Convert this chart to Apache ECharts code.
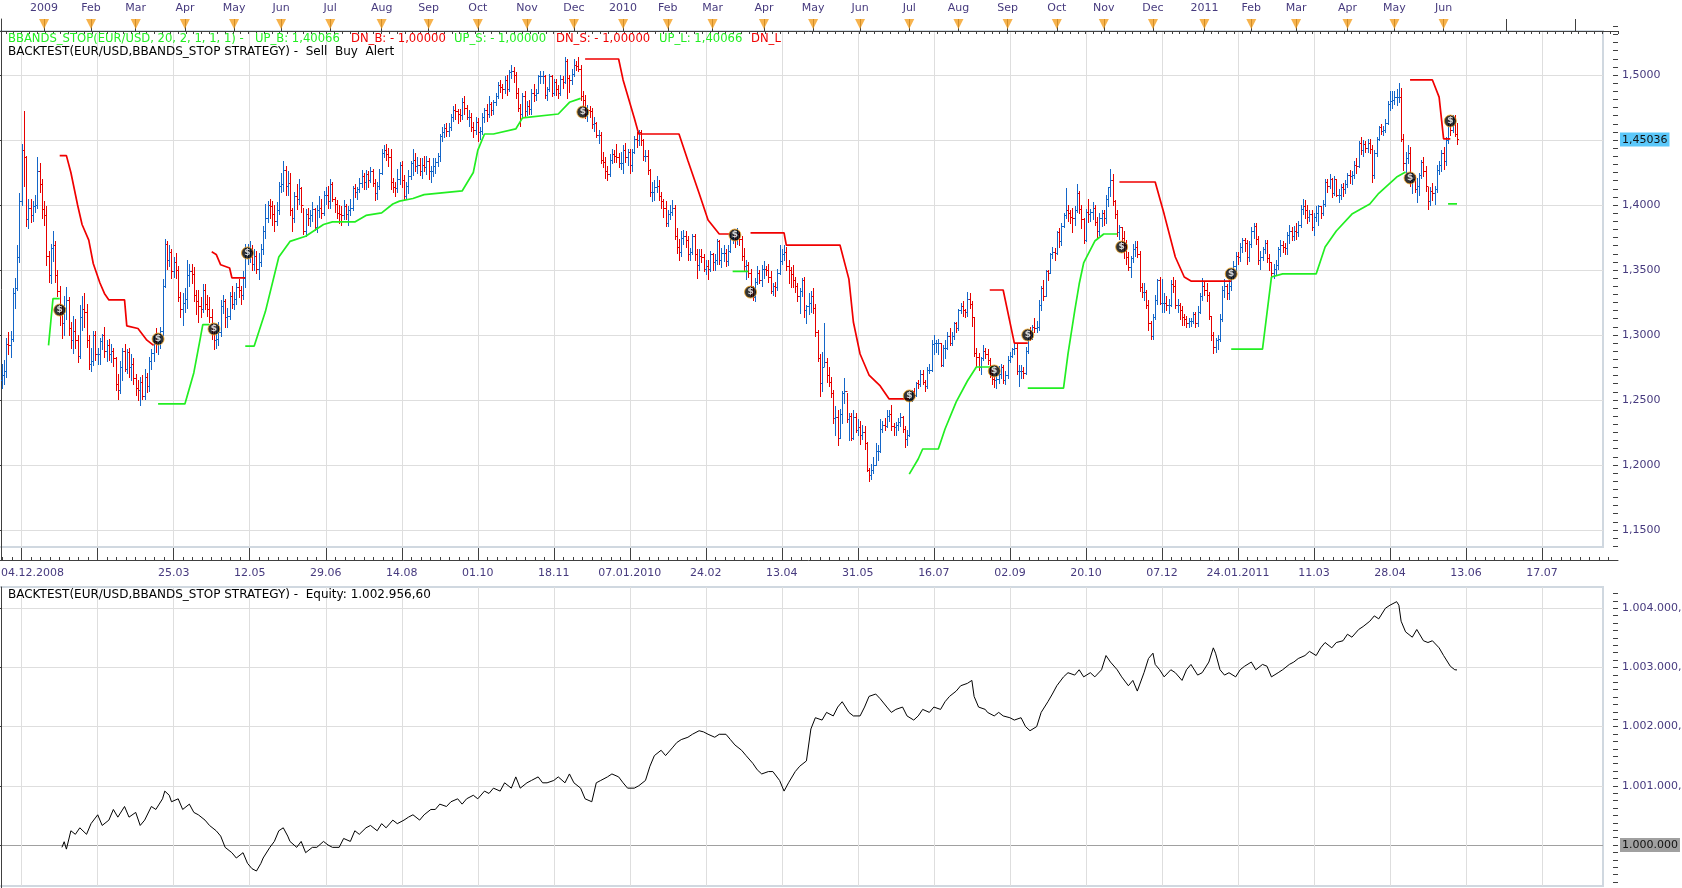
<!DOCTYPE html>
<html>
<head>
<meta charset="utf-8">
<title>EUR/USD BBANDS_STOP backtest</title>
<script src="https://cdn.jsdelivr.net/npm/echarts@6.0.0/dist/echarts.min.js"></script>
<style>
html, body { margin: 0; padding: 0; background: #fff; }
#chart { width: 1682px; height: 888px; }
</style>
</head>
<body>
<div id="chart"></div>
<script>
// daily EUR/USD bars, one row per month (Dec 2008 .. Jun 2011), bar index 0 = 04.12.2008
const firstOpen = 1.265
const closeRows = [
  [1.269,1.272,1.293,1.292,1.297,1.332,1.336,1.360,1.403,1.442,1.437,1.389,1.398,1.392,1.399,1.400,1.426,1.416,1.397],
  [1.392,1.361,1.346,1.367,1.369,1.346,1.334,1.318,1.309,1.321,1.327,1.305,1.296,1.303,1.296,1.284,1.314,1.320,1.318,1.296,1.278],
  [1.280,1.300,1.285,1.285,1.295,1.300,1.288,1.292,1.285,1.288,1.282,1.262,1.258,1.275,1.288,1.274,1.287,1.275,1.278,1.267],
  [1.259,1.258,1.264,1.253,1.268,1.261,1.280,1.286,1.295,1.293,1.295,1.303,1.338,1.370,1.358,1.364,1.349,1.356,1.350,1.329,1.320,1.325],
  [1.328,1.346,1.349,1.347,1.331,1.326,1.322,1.320,1.335,1.324,1.320,1.314,1.303,1.296,1.297,1.302,1.322,1.326,1.314,1.315,1.330,1.324],
  [1.328,1.337,1.335,1.331,1.344,1.363,1.363,1.365,1.355,1.361,1.351,1.356,1.366,1.380,1.390,1.400,1.399,1.393,1.388,1.396,1.415],
  [1.416,1.427,1.415,1.417,1.396,1.390,1.407,1.405,1.413,1.400,1.380,1.393,1.390,1.392,1.397,1.383,1.396,1.398,1.394,1.408,1.408,1.403],
  [1.416,1.405,1.401,1.394,1.393,1.392,1.399,1.393,1.396,1.398,1.413,1.410,1.412,1.417,1.422,1.418,1.424,1.419,1.426,1.417,1.409,1.415,1.425],
  [1.440,1.442,1.439,1.437,1.418,1.414,1.413,1.420,1.431,1.419,1.407,1.415,1.422,1.432,1.435,1.430,1.431,1.426,1.431,1.429,1.434],
  [1.426,1.426,1.430,1.433,1.438,1.453,1.456,1.459,1.457,1.460,1.468,1.473,1.472,1.470,1.469,1.479,1.475,1.468,1.468,1.460,1.458,1.464],
  [1.456,1.457,1.468,1.473,1.470,1.478,1.473,1.479,1.484,1.492,1.491,1.489,1.496,1.489,1.502,1.503,1.500,1.486,1.475,1.470,1.484,1.472],
  [1.476,1.474,1.486,1.485,1.486,1.499,1.499,1.499,1.485,1.489,1.499,1.486,1.495,1.489,1.486,1.497,1.495,1.511,1.498,1.496,1.501],
  [1.508,1.507,1.505,1.484,1.481,1.470,1.473,1.472,1.462,1.463,1.454,1.454,1.435,1.433,1.426,1.424,1.435,1.439,1.438,1.437,1.432,1.432],
  [1.442,1.437,1.441,1.431,1.441,1.451,1.450,1.456,1.450,1.438,1.438,1.427,1.410,1.410,1.414,1.415,1.407,1.403,1.398,1.386],
  [1.393,1.395,1.398,1.376,1.368,1.364,1.375,1.376,1.373,1.362,1.364,1.376,1.362,1.354,1.361,1.360,1.351,1.353,1.351,1.362],
  [1.356,1.358,1.372,1.358,1.363,1.363,1.357,1.365,1.375,1.377,1.374,1.378,1.374,1.361,1.353,1.354,1.348,1.332,1.329,1.341,1.348,1.342,1.351],
  [1.351,1.350,1.345,1.334,1.338,1.337,1.348,1.357,1.362,1.364,1.353,1.350,1.347,1.342,1.338,1.330,1.334,1.342,1.319,1.322,1.325,1.330],
  [1.321,1.302,1.282,1.263,1.275,1.279,1.269,1.264,1.255,1.236,1.237,1.221,1.239,1.255,1.257,1.235,1.238,1.221,1.237,1.227,1.229],
  [1.223,1.225,1.217,1.196,1.192,1.196,1.200,1.211,1.211,1.228,1.231,1.230,1.238,1.239,1.230,1.229,1.231,1.233,1.237,1.228,1.220,1.223],
  [1.251,1.257,1.254,1.263,1.262,1.270,1.264,1.261,1.273,1.273,1.293,1.294,1.294,1.294,1.277,1.290,1.290,1.299,1.294,1.299,1.309,1.305],
  [1.319,1.322,1.319,1.318,1.328,1.324,1.314,1.286,1.283,1.275,1.282,1.288,1.285,1.281,1.271,1.266,1.265,1.266,1.270,1.275,1.265,1.269],
  [1.281,1.284,1.289,1.290,1.272,1.272,1.272,1.271,1.288,1.301,1.300,1.306,1.305,1.306,1.323,1.336,1.330,1.349,1.348,1.362,1.364,1.363],
  [1.379,1.372,1.384,1.392,1.396,1.394,1.391,1.390,1.396,1.409,1.397,1.389,1.373,1.395,1.393,1.395,1.398,1.387,1.380,1.390,1.394],
  [1.390,1.405,1.414,1.419,1.403,1.393,1.379,1.383,1.375,1.369,1.360,1.352,1.359,1.366,1.368,1.362,1.337,1.333,1.333,1.323,1.309,1.299],
  [1.314,1.327,1.342,1.325,1.325,1.325,1.323,1.323,1.339,1.338,1.323,1.323,1.319,1.314,1.312,1.309,1.311,1.311,1.316,1.309,1.318,1.330,1.338],
  [1.335,1.331,1.315,1.300,1.291,1.296,1.297,1.312,1.335,1.338,1.332,1.338,1.347,1.353,1.361,1.360,1.368,1.373,1.371,1.360,1.370],
  [1.380,1.384,1.374,1.358,1.360,1.366,1.371,1.359,1.356,1.348,1.351,1.354,1.366,1.369,1.368,1.367,1.377,1.380,1.376,1.380],
  [1.379,1.385,1.397,1.399,1.396,1.391,1.393,1.383,1.391,1.394,1.399,1.394,1.401,1.418,1.415,1.420,1.409,1.420,1.408,1.408,1.414,1.412,1.416],
  [1.423,1.422,1.423,1.431,1.430,1.448,1.442,1.447,1.444,1.448,1.443,1.423,1.440,1.451,1.460,1.457,1.458,1.463,1.478,1.480,1.481],
  [1.483,1.483,1.483,1.451,1.432,1.436,1.440,1.419,1.420,1.412,1.415,1.423,1.433,1.426,1.415,1.403,1.411,1.409,1.412,1.427,1.431,1.440],
  [1.434,1.450,1.464,1.458,1.466,1.455,1.4504]
]
const highRows = [
  [1.278,1.281,1.298,1.302,1.303,1.336,1.344,1.369,1.409,1.447,1.472,1.438,1.405,1.405,1.403,1.408,1.437,1.432,1.420],
  [1.403,1.399,1.365,1.370,1.380,1.372,1.350,1.338,1.322,1.330,1.337,1.329,1.310,1.315,1.312,1.300,1.323,1.330,1.332,1.324,1.300],
  [1.290,1.303,1.303,1.290,1.298,1.301,1.306,1.296,1.297,1.293,1.290,1.283,1.270,1.280,1.290,1.293,1.289,1.290,1.285,1.282],
  [1.270,1.265,1.268,1.269,1.274,1.271,1.283,1.289,1.299,1.305,1.300,1.306,1.343,1.374,1.372,1.369,1.366,1.360,1.363,1.353,1.333,1.332],
  [1.336,1.358,1.355,1.355,1.352,1.335,1.335,1.329,1.339,1.339,1.331,1.329,1.320,1.307,1.303,1.310,1.327,1.331,1.328,1.321,1.333,1.338],
  [1.333,1.340,1.343,1.338,1.349,1.370,1.370,1.372,1.369,1.366,1.365,1.363,1.370,1.384,1.401,1.403,1.405,1.403,1.400,1.402,1.418],
  [1.425,1.434,1.430,1.426,1.425,1.398,1.410,1.416,1.420,1.414,1.398,1.397,1.398,1.396,1.402,1.398,1.400,1.407,1.405,1.411,1.414,1.415],
  [1.420,1.418,1.406,1.404,1.400,1.399,1.404,1.401,1.399,1.405,1.415,1.416,1.414,1.421,1.427,1.425,1.427,1.426,1.429,1.428,1.420,1.418,1.428],
  [1.443,1.446,1.447,1.444,1.443,1.421,1.418,1.428,1.433,1.434,1.423,1.418,1.427,1.434,1.443,1.440,1.437,1.436,1.436,1.438,1.438],
  [1.436,1.430,1.436,1.436,1.440,1.455,1.460,1.462,1.463,1.463,1.470,1.476,1.478,1.474,1.474,1.482,1.484,1.477,1.473,1.471,1.464,1.468],
  [1.467,1.460,1.471,1.475,1.478,1.484,1.479,1.481,1.486,1.495,1.496,1.493,1.499,1.500,1.504,1.508,1.506,1.502,1.490,1.478,1.486,1.488],
  [1.480,1.481,1.489,1.493,1.489,1.500,1.503,1.503,1.500,1.491,1.501,1.500,1.497,1.497,1.492,1.500,1.499,1.514,1.512,1.500,1.505],
  [1.512,1.511,1.514,1.508,1.488,1.485,1.477,1.476,1.475,1.468,1.464,1.458,1.456,1.441,1.437,1.430,1.439,1.443,1.442,1.447,1.440,1.441],
  [1.446,1.448,1.443,1.443,1.443,1.453,1.456,1.458,1.458,1.451,1.442,1.442,1.428,1.418,1.419,1.422,1.419,1.410,1.405,1.403],
  [1.396,1.400,1.404,1.400,1.382,1.374,1.380,1.381,1.380,1.376,1.367,1.378,1.378,1.366,1.366,1.366,1.362,1.358,1.358,1.365],
  [1.363,1.362,1.374,1.373,1.367,1.369,1.366,1.369,1.378,1.380,1.377,1.382,1.380,1.376,1.367,1.358,1.356,1.351,1.338,1.344,1.353,1.350,1.354],
  [1.357,1.353,1.355,1.349,1.340,1.341,1.351,1.369,1.366,1.369,1.368,1.358,1.352,1.354,1.345,1.340,1.336,1.344,1.345,1.323,1.332,1.334],
  [1.336,1.324,1.304,1.285,1.287,1.309,1.282,1.275,1.268,1.258,1.245,1.242,1.243,1.257,1.267,1.255,1.240,1.240,1.242,1.240,1.235],
  [1.234,1.231,1.230,1.218,1.198,1.201,1.206,1.217,1.215,1.235,1.234,1.236,1.242,1.242,1.246,1.232,1.233,1.236,1.240,1.238,1.230,1.227],
  [1.253,1.258,1.259,1.264,1.265,1.273,1.273,1.265,1.275,1.278,1.296,1.300,1.296,1.297,1.294,1.292,1.296,1.302,1.305,1.302,1.310,1.310],
  [1.320,1.325,1.326,1.320,1.333,1.332,1.326,1.314,1.290,1.286,1.283,1.292,1.290,1.289,1.282,1.273,1.268,1.271,1.276,1.278,1.277,1.272],
  [1.284,1.287,1.290,1.294,1.293,1.277,1.277,1.275,1.291,1.304,1.306,1.308,1.313,1.311,1.327,1.338,1.342,1.350,1.350,1.363,1.368,1.367],
  [1.380,1.382,1.386,1.394,1.413,1.400,1.396,1.398,1.399,1.416,1.411,1.400,1.390,1.397,1.405,1.397,1.402,1.400,1.391,1.394,1.396],
  [1.396,1.408,1.414,1.428,1.424,1.404,1.396,1.385,1.383,1.380,1.373,1.364,1.361,1.370,1.372,1.372,1.365,1.340,1.340,1.335,1.327,1.311],
  [1.316,1.331,1.343,1.345,1.343,1.332,1.330,1.328,1.342,1.345,1.342,1.328,1.325,1.322,1.316,1.315,1.313,1.313,1.318,1.318,1.322,1.332,1.344],
  [1.341,1.340,1.333,1.315,1.302,1.298,1.300,1.316,1.338,1.343,1.339,1.342,1.350,1.357,1.364,1.364,1.371,1.375,1.375,1.373,1.372],
  [1.383,1.386,1.386,1.376,1.365,1.368,1.373,1.373,1.362,1.356,1.355,1.358,1.368,1.373,1.372,1.371,1.379,1.385,1.383,1.384],
  [1.386,1.388,1.400,1.405,1.404,1.400,1.396,1.396,1.394,1.399,1.400,1.399,1.404,1.420,1.420,1.424,1.421,1.422,1.420,1.412,1.416,1.417,1.419],
  [1.425,1.427,1.426,1.434,1.436,1.449,1.452,1.450,1.449,1.451,1.451,1.446,1.442,1.452,1.461,1.462,1.461,1.466,1.480,1.488,1.488],
  [1.488,1.489,1.494,1.490,1.455,1.441,1.446,1.445,1.425,1.423,1.421,1.425,1.435,1.437,1.430,1.414,1.414,1.417,1.415,1.431,1.434,1.442],
  [1.445,1.452,1.466,1.469,1.469,1.469,1.463]
]
const lowRows = [
  [1.259,1.262,1.268,1.285,1.283,1.295,1.321,1.335,1.356,1.400,1.415,1.384,1.382,1.387,1.388,1.395,1.398,1.410,1.390],
  [1.385,1.354,1.341,1.340,1.357,1.341,1.330,1.308,1.298,1.300,1.312,1.300,1.290,1.286,1.290,1.279,1.282,1.304,1.306,1.291,1.274],
  [1.272,1.277,1.281,1.278,1.278,1.289,1.283,1.280,1.281,1.279,1.276,1.258,1.251,1.255,1.265,1.272,1.271,1.268,1.265,1.262],
  [1.254,1.250,1.246,1.251,1.251,1.256,1.257,1.274,1.280,1.287,1.285,1.290,1.300,1.337,1.351,1.353,1.344,1.345,1.344,1.326,1.314,1.308],
  [1.318,1.321,1.338,1.340,1.326,1.316,1.310,1.314,1.318,1.320,1.315,1.310,1.297,1.289,1.290,1.292,1.299,1.317,1.306,1.306,1.312,1.321],
  [1.320,1.324,1.329,1.324,1.328,1.337,1.355,1.356,1.350,1.350,1.348,1.343,1.353,1.362,1.375,1.387,1.390,1.385,1.380,1.385,1.393],
  [1.410,1.411,1.408,1.408,1.392,1.380,1.387,1.397,1.401,1.395,1.378,1.376,1.385,1.384,1.388,1.381,1.379,1.391,1.390,1.392,1.401,1.398],
  [1.398,1.403,1.395,1.390,1.386,1.385,1.389,1.389,1.385,1.392,1.396,1.406,1.405,1.410,1.414,1.412,1.412,1.414,1.418,1.415,1.404,1.405,1.412],
  [1.424,1.437,1.435,1.430,1.412,1.410,1.407,1.410,1.416,1.414,1.405,1.405,1.409,1.420,1.423,1.426,1.425,1.423,1.421,1.426,1.424],
  [1.420,1.418,1.422,1.425,1.430,1.434,1.449,1.452,1.453,1.453,1.458,1.465,1.466,1.463,1.465,1.466,1.470,1.466,1.461,1.457,1.452,1.455],
  [1.449,1.451,1.455,1.464,1.465,1.468,1.469,1.470,1.477,1.482,1.487,1.482,1.486,1.485,1.488,1.498,1.495,1.482,1.472,1.461,1.467,1.468],
  [1.469,1.470,1.470,1.480,1.481,1.486,1.494,1.494,1.482,1.481,1.488,1.484,1.485,1.485,1.482,1.485,1.490,1.494,1.482,1.487,1.493],
  [1.499,1.504,1.503,1.481,1.476,1.467,1.465,1.468,1.459,1.457,1.452,1.448,1.432,1.429,1.421,1.419,1.422,1.432,1.433,1.433,1.429,1.428],
  [1.425,1.433,1.431,1.425,1.426,1.440,1.445,1.446,1.446,1.435,1.434,1.424,1.407,1.403,1.404,1.410,1.404,1.398,1.391,1.384],
  [1.384,1.389,1.392,1.374,1.363,1.358,1.361,1.370,1.368,1.358,1.358,1.362,1.358,1.344,1.350,1.356,1.349,1.347,1.343,1.349],
  [1.350,1.350,1.355,1.355,1.352,1.357,1.353,1.354,1.364,1.371,1.368,1.370,1.369,1.358,1.350,1.343,1.345,1.330,1.327,1.326,1.339,1.340,1.338],
  [1.344,1.346,1.341,1.332,1.331,1.330,1.335,1.347,1.355,1.358,1.350,1.340,1.337,1.337,1.333,1.326,1.317,1.330,1.314,1.309,1.316,1.318],
  [1.317,1.299,1.280,1.253,1.257,1.276,1.264,1.261,1.252,1.232,1.223,1.215,1.221,1.232,1.248,1.233,1.219,1.219,1.220,1.225,1.223],
  [1.216,1.220,1.212,1.195,1.188,1.189,1.194,1.200,1.204,1.210,1.225,1.227,1.229,1.234,1.227,1.223,1.223,1.227,1.230,1.225,1.214,1.215],
  [1.222,1.249,1.252,1.253,1.259,1.261,1.262,1.257,1.259,1.271,1.272,1.285,1.287,1.285,1.276,1.276,1.282,1.289,1.292,1.292,1.297,1.302],
  [1.304,1.317,1.315,1.314,1.315,1.321,1.307,1.284,1.276,1.273,1.270,1.281,1.282,1.278,1.268,1.262,1.260,1.259,1.263,1.267,1.263,1.262],
  [1.267,1.279,1.283,1.285,1.270,1.261,1.267,1.267,1.270,1.286,1.296,1.297,1.302,1.302,1.304,1.319,1.327,1.330,1.342,1.348,1.359,1.358],
  [1.362,1.368,1.369,1.383,1.390,1.388,1.386,1.379,1.385,1.395,1.394,1.382,1.371,1.372,1.387,1.388,1.389,1.385,1.375,1.377,1.384],
  [1.385,1.386,1.399,1.407,1.400,1.390,1.376,1.374,1.370,1.359,1.355,1.350,1.345,1.356,1.361,1.360,1.334,1.329,1.327,1.321,1.304,1.297],
  [1.297,1.312,1.324,1.324,1.318,1.318,1.319,1.317,1.322,1.333,1.321,1.318,1.312,1.308,1.308,1.306,1.306,1.307,1.309,1.306,1.307,1.317,1.327],
  [1.331,1.326,1.312,1.296,1.286,1.287,1.289,1.295,1.311,1.329,1.328,1.328,1.335,1.344,1.349,1.355,1.357,1.364,1.365,1.355,1.357],
  [1.368,1.375,1.370,1.355,1.351,1.358,1.363,1.356,1.350,1.345,1.344,1.346,1.351,1.361,1.364,1.362,1.362,1.371,1.373,1.373],
  [1.374,1.376,1.383,1.393,1.390,1.386,1.388,1.381,1.377,1.388,1.385,1.390,1.392,1.399,1.410,1.413,1.406,1.408,1.407,1.402,1.405,1.407,1.409],
  [1.414,1.417,1.416,1.421,1.425,1.429,1.439,1.438,1.441,1.441,1.440,1.418,1.421,1.438,1.450,1.455,1.454,1.456,1.462,1.473,1.475],
  [1.478,1.477,1.479,1.449,1.427,1.425,1.432,1.415,1.409,1.410,1.402,1.408,1.421,1.422,1.411,1.397,1.400,1.404,1.401,1.410,1.424,1.426],
  [1.428,1.431,1.448,1.454,1.456,1.453,1.447]
]

// BBANDS_STOP lines: [bar index, price], one list per segment
const redStop = [
  [[26,1.438],[29,1.438],[31,1.425],[34,1.400],[36,1.385],[39,1.373],[41,1.355],[44,1.340],[46,1.332],[48,1.327],[55,1.327],[56,1.307],[61,1.305],[65,1.296],[68,1.292]],
  [[94,1.364],[96,1.362],[98,1.354],[102,1.3515],[103,1.344],[109,1.344]],
  [[261,1.5123],[276,1.5123],[278,1.4962],[283,1.467],[285,1.4546],[303,1.4546],[307,1.434],[312,1.409],[316,1.3885],[321,1.3777],[326,1.3777]],
  [[335,1.3785],[350,1.3785],[351,1.3692],[375,1.3692],[379,1.343],[381,1.31],[384,1.2854],[388,1.2692],[393,1.2608],[397,1.2508],[406,1.2508]],
  [[442,1.3346],[448,1.3346],[453,1.2938],[459,1.2938]],
  [[500,1.4177],[516,1.4177],[520,1.393],[525,1.36],[529,1.3446],[532,1.3415],[550,1.3415]],
  [[630,1.4962],[640,1.4962],[643,1.483],[645,1.4508],[648,1.4508]]
]
const greenStop = [
  [[21,1.292],[22,1.310],[23,1.328],[26,1.328]],
  [[70,1.247],[82,1.247],[86,1.271],[89,1.2985],[90,1.308],[93,1.308]],
  [[109,1.2915],[113,1.2915],[118,1.318],[124,1.36],[129,1.372],[136,1.376],[144,1.385],[148,1.387],[158,1.387],[163,1.392],[170,1.394],[175,1.4008],[178,1.403],[184,1.405],[189,1.408],[206,1.4108],[211,1.425],[213,1.442],[216,1.4546],[220,1.4546],[230,1.4585],[233,1.467],[249,1.470],[254,1.479],[259,1.482]],
  [[327,1.349],[334,1.349]],
  [[406,1.193],[410,1.2046],[412,1.2123],[419,1.2123],[422,1.2277],[427,1.2485],[432,1.2646],[436,1.2754],[444,1.2754]],
  [[459,1.2592],[475,1.2592],[477,1.2854],[480,1.3185],[482,1.3392],[484,1.3554],[489,1.3723],[493,1.3777],[499,1.3777]],
  [[550,1.2892],[564,1.2892],[568,1.3446],[573,1.347],[588,1.347],[592,1.3677],[597,1.38],[604,1.393],[612,1.4008],[616,1.409],[624,1.4215],[628,1.4254]],
  [[647,1.4008],[651,1.4008]]
]
// trade signals: [bar index, price]
const signals = [[26,1.3192],[70,1.2969],[95,1.3046],[110,1.3631],[260,1.4715],[328,1.3769],[335,1.333],[406,1.2531],[444,1.2723],[459,1.30],[501,1.3677],[550,1.347],[630,1.4208],[648,1.4646]]

// equity curve: [bar index, equity]
const equity = [
  [27,999960],[28,1000055],[29,999930],[31,1000240],[33,1000180],[35,1000290],[38,1000180],[40,1000360],[43,1000510],[45,1000330],
  [48,1000420],[50,1000600],[52,1000470],[55,1000650],[57,1000470],[60,1000550],[62,1000330],[64,1000420],[67,1000650],[69,1000600],
  [72,1000780],[73,1000910],[75,1000840],[76,1000730],[79,1000780],[81,1000600],[84,1000690],[86,1000550],[88,1000510],[91,1000420],
  [93,1000330],[96,1000240],[98,1000150],[100,999960],[103,999870],[105,999780],[108,999870],[110,999690],[112,999600],[114,999560],
  [116,999690],[117,999780],[120,999960],[122,1000060],[124,1000240],[126,1000290],[128,1000150],[129,1000060],[132,999960],[134,1000060],
  [136,999870],[139,999960],[141,999960],[144,1000060],[146,1000000],[148,999960],[151,999960],[153,1000110],[156,1000060],[158,1000240],
  [160,1000180],[163,1000290],[165,1000330],[168,1000240],[170,1000360],[172,1000290],[175,1000420],[177,1000360],[180,1000420],[182,1000470],
  [184,1000510],[187,1000420],[189,1000510],[192,1000600],[194,1000600],[196,1000690],[199,1000650],[201,1000730],[204,1000780],[206,1000690],
  [208,1000780],[211,1000840],[213,1000780],[216,1000910],[218,1000870],[220,1000960],[223,1000910],[225,1001050],[228,1000960],[230,1001150],
  [232,1000960],[235,1001050],[237,1001090],[240,1001150],[242,1001050],[244,1001050],[247,1001090],[249,1001150],[252,1001050],[254,1001200],
  [256,1001050],[259,1000960],[261,1000780],[264,1000730],[266,1001050],[268,1001090],[271,1001150],[273,1001200],[276,1001150],[278,1001050],
  [280,1000960],[283,1000960],[285,1001000],[288,1001090],[290,1001330],[292,1001510],[295,1001600],[297,1001510],[300,1001640],[302,1001730],
  [304,1001780],[307,1001820],[309,1001870],[312,1001930],[314,1001910],[316,1001870],[319,1001820],[321,1001870],[324,1001870],[326,1001780],
  [328,1001690],[331,1001600],[333,1001510],[336,1001380],[338,1001270],[340,1001200],[343,1001240],[345,1001240],[348,1001090],[350,1000910],
  [352,1001050],[355,1001240],[357,1001330],[360,1001420],[362,1001960],[364,1002150],[367,1002110],[369,1002240],[372,1002180],[374,1002330],
  [376,1002420],[379,1002240],[381,1002180],[384,1002180],[386,1002330],[388,1002510],[391,1002550],[393,1002470],[396,1002330],[398,1002240],
  [400,1002290],[403,1002330],[405,1002180],[408,1002110],[410,1002180],[412,1002290],[415,1002240],[417,1002330],[420,1002290],[422,1002420],
  [424,1002510],[427,1002600],[429,1002690],[432,1002730],[434,1002780],[435,1002510],[437,1002330],[440,1002290],[441,1002240],[444,1002180],
  [446,1002240],[448,1002180],[451,1002150],[453,1002110],[456,1002150],[458,1002000],[460,1001930],[463,1002000],[465,1002240],[468,1002420],
  [470,1002550],[472,1002690],[475,1002840],[477,1002910],[480,1002870],[482,1002960],[484,1002840],[487,1002910],[489,1002840],[492,1002960],
  [494,1003200],[496,1003090],[499,1002960],[501,1002840],[504,1002690],[506,1002780],[508,1002600],[511,1002910],[513,1003150],[515,1003240],
  [516,1003050],[518,1002960],[520,1002840],[523,1002960],[525,1002910],[528,1002780],[530,1002960],[532,1003050],[535,1002870],[537,1002910],
  [540,1003090],[542,1003330],[543,1003240],[545,1002960],[547,1002870],[549,1002910],[552,1002840],[554,1002960],[556,1003020],[559,1003090],
  [561,1002960],[564,1003050],[566,1003020],[568,1002840],[571,1002910],[573,1002960],[576,1003050],[578,1003090],[580,1003150],[583,1003200],
  [585,1003270],[588,1003200],[590,1003330],[592,1003420],[595,1003330],[597,1003420],[600,1003450],[602,1003560],[604,1003510],[607,1003640],
  [609,1003690],[612,1003780],[614,1003870],[616,1003820],[619,1004000],[621,1004050],[624,1004110],[625,1004050],[626,1003780],[628,1003600],
  [631,1003510],[633,1003640],[636,1003450],[638,1003420],[640,1003450],[643,1003330],[645,1003200],[648,1003020],[650,1002960],[651,1002957]
]

// axis labels
const monthIdx = [19,40,60,82,104,125,147,170,191,213,235,256,278,298,318,341,363,384,406,428,450,472,493,515,538,559,579,602,623,645]
const monthNames = ['2009','Feb','Mar','Apr','May','Jun','Jul','Aug','Sep','Oct','Nov','Dec','2010','Feb','Mar','Apr','May','Jun','Jul','Aug','Sep','Oct','Nov','Dec','2011','Feb','Mar','Apr','May','Jun']
const futureMonthIdx = [673, 704]
const dateLabels = ['25.03','12.05','29.06','14.08','01.10','18.11','07.01.2010','24.02','13.04','31.05','16.07','02.09','20.10','07.12','24.01.2011','11.03','28.04','13.06','17.07']
const firstDateLabel = '04.12.2008'
const priceTicks = [1.15, 1.20, 1.25, 1.30, 1.35, 1.40, 1.45, 1.50]
const lastPrice = 1.45036
const equityTicks = [1000000, 1001000, 1002000, 1003000, 1004000]

// ---------- layout ----------
const X_MIN = -1.6
const X_MAX_PLOT = 716.3
const X_MAX_FRAME = 723.0
const GRID_FIRST = 9, GRID_STEP = 34
const UP_COLOR = '#1466c8', DOWN_COLOR = '#e60000'
const RED = '#f00000', GREEN = '#22ee22'
const LABEL_COLOR = '#463a7e'
const GRID_COLOR = '#dedede'
const BORDER_COLOR = '#d0d8e0'
const FONT = 'DejaVu Sans'

const close = closeRows.flat(), high = highRows.flat(), low = lowRows.flat()
const bars = close.map((c, i) => [i, i === 0 ? firstOpen : close[i - 1], high[i], low[i], c])

const gridIdx = []
for (let v = GRID_FIRST; v <= 700; v += GRID_STEP) gridIdx.push(v)
const dateLabelIdx = dateLabels.map((_, k) => GRID_FIRST + GRID_STEP * (k + 2))
const dateMinor = []
for (let k = 0; k < 200; k++) { const v = 0.5 + k * GRID_STEP / 8; if (v < X_MAX_FRAME) dateMinor.push(v) }
const priceMinor = []
for (let k = 0; k <= 66; k++) priceMinor.push(+(1.1375 + k * 0.00625).toFixed(5))
const equityMinor = []
for (let k = 0; k <= 42; k++) equityMinor.push(999375 + k * 125)

const fmtPrice = v => v.toFixed(4).replace('.', ',')
const fmtEquity = v => Math.round(v).toString().replace(/\B(?=(\d{3})+(?!\d))/g, '.')

const chart = echarts.init(document.getElementById('chart'), null, { renderer: 'canvas' })

function renderBar(params, api) {
  const i = api.value(0)
  const o = api.value(1), h = api.value(2), l = api.value(3), c = api.value(4)
  const ph = api.coord([i, h]), pl = api.coord([i, l]), po = api.coord([i, o]), pc = api.coord([i, c])
  const x = Math.round(ph[0]) + 0.5
  const st = { stroke: c >= o ? UP_COLOR : DOWN_COLOR, lineWidth: 1 }
  const yo = Math.round(po[1]) + 0.5, yc = Math.round(pc[1]) + 0.5
  return {
    type: 'group',
    children: [
      { type: 'line', shape: { x1: x, y1: Math.round(ph[1]), x2: x, y2: Math.round(pl[1]) + 1 }, style: st },
      { type: 'line', shape: { x1: x - 1.5, y1: yo, x2: x, y2: yo }, style: st },
      { type: 'line', shape: { x1: x, y1: yc, x2: x + 1.5, y2: yc }, style: st }
    ]
  }
}

const hiddenAxis = (gridIndex, min, max) => ({ type: 'value', gridIndex, min, max, show: false })
const stopSeries = (segs, color) => segs.map(seg => ({
  type: 'line', xAxisIndex: 0, yAxisIndex: 0, data: seg, showSymbol: false, symbol: 'none',
  lineStyle: { color, width: 1.7 }, z: 4, silent: true, animation: false
}))
const txt = (left, top, text, fill, size) => ({ type: 'text', left, top, z: 10, style: { text, fill, font: (size || 12) + 'px ' + FONT } })

const graphicTexts = [
  txt(8, 33, 'BBANDS_STOP(EUR/USD, 20, 2, 1, 1, 1) -', GREEN, 11.6),
  txt(255, 33, 'UP_B: 1,40066', GREEN, 11.6),
  txt(351, 33, 'DN_B: - 1,00000', RED, 11.6),
  txt(454, 33, 'UP_S: - 1,00000', GREEN, 11.6),
  txt(556, 33, 'DN_S: - 1,00000', RED, 11.6),
  txt(659, 33, 'UP_L: 1,40066', GREEN, 11.6),
  txt(751, 33, 'DN_L', RED, 11.6),
  txt(8, 46, 'BACKTEST(EUR/USD,BBANDS_STOP STRATEGY) -  Sell  Buy  Alert', '#000'),
  txt(8, 589, 'BACKTEST(EUR/USD,BBANDS_STOP STRATEGY) -  Equity: 1.002.956,60', '#000'),
  { type: 'text', left: 1, top: 568, style: { text: firstDateLabel, fill: LABEL_COLOR, font: '11px ' + FONT } }
]
const badRows = closeRows.map((r, k) => (r.length !== highRows[k].length || r.length !== lowRows[k].length) ? k : -1).filter(k => k >= 0)
if (badRows.length || close.length !== 652) {
  graphicTexts.push({ type: 'text', left: 800, top: 300, style: { text: 'ROWS ' + badRows.join(',') + ' n=' + close.length, fill: '#f0f', font: 'bold 20px sans-serif' } })
}

const gridBase = { outerBoundsMode: 'none', containLabel: false }

chart.setOption({
  animation: false,
  textStyle: { fontFamily: FONT },
  grid: [
    { ...gridBase, left: -2, top: 31, width: 1605, height: 516, show: true, borderColor: BORDER_COLOR, borderWidth: 2 },
    { ...gridBase, left: -2, top: 19, width: 1620, height: 12 },
    { ...gridBase, left: -2, top: 547, width: 1620, height: 13 },
    { ...gridBase, left: -2, top: 19, width: 1620, height: 541 },
    { ...gridBase, left: -2, top: 587, width: 1605, height: 299, show: true, borderColor: BORDER_COLOR, borderWidth: 2 },
    { ...gridBase, left: -2, top: 587, width: 1620, height: 301 }
  ],
  xAxis: [
    { type: 'value', gridIndex: 0, min: X_MIN, max: X_MAX_PLOT, axisLine: { show: false }, axisLabel: { show: false },
      axisTick: { show: false, customValues: gridIdx }, splitLine: { show: true, lineStyle: { color: GRID_COLOR } } },
    { type: 'value', gridIndex: 1, position: 'top', min: X_MIN, max: X_MAX_FRAME, interval: 3.5,
      axisLine: { lineStyle: { color: '#404040' } }, axisTick: { inside: true, length: 3, lineStyle: { color: '#404040' } },
      axisLabel: { show: false }, splitLine: { show: false } },
    { type: 'value', gridIndex: 1, position: 'top', min: X_MIN, max: X_MAX_FRAME,
      axisLine: { show: false }, axisTick: { inside: true, length: 12, customValues: monthIdx.concat(futureMonthIdx), lineStyle: { color: '#404040' } },
      axisLabel: { customValues: monthIdx, margin: 5, color: LABEL_COLOR, fontSize: 11, fontFamily: FONT,
        formatter: v => monthNames[monthIdx.indexOf(Math.round(v))] || '' },
      splitLine: { show: false } },
    { type: 'value', gridIndex: 2, position: 'bottom', min: X_MIN, max: X_MAX_FRAME,
      axisLine: { lineStyle: { color: '#404040' } }, axisTick: { inside: true, length: 12, customValues: gridIdx, lineStyle: { color: '#404040' } },
      axisLabel: { customValues: dateLabelIdx, margin: 8, color: LABEL_COLOR, fontSize: 11, fontFamily: FONT,
        formatter: v => dateLabels[dateLabelIdx.indexOf(Math.round(v))] || '' },
      splitLine: { show: false } },
    { type: 'value', gridIndex: 2, position: 'bottom', min: X_MIN, max: X_MAX_FRAME,
      axisLine: { show: false }, axisTick: { inside: true, length: 3, customValues: dateMinor, lineStyle: { color: '#404040' } },
      axisLabel: { show: false }, splitLine: { show: false } },
    hiddenAxis(3, X_MIN, X_MAX_FRAME),
    { type: 'value', gridIndex: 4, min: X_MIN, max: X_MAX_PLOT, axisLine: { show: false }, axisLabel: { show: false },
      axisTick: { show: false, customValues: gridIdx }, splitLine: { show: true, lineStyle: { color: GRID_COLOR } } },
    hiddenAxis(5, X_MIN, X_MAX_FRAME)
  ],
  yAxis: [
    { type: 'value', gridIndex: 0, min: 1.13692, max: 1.53385, axisLine: { show: false }, axisLabel: { show: false },
      axisTick: { show: false, customValues: priceTicks }, splitLine: { show: true, lineStyle: { color: GRID_COLOR } } },
    hiddenAxis(1, 0, 1),
    hiddenAxis(2, 0, 1),
    { type: 'value', gridIndex: 3, position: 'right', min: 1.126923, max: 1.543077,
      axisLine: { show: true, lineStyle: { color: '#404040' } },
      axisTick: { inside: true, length: 15, customValues: priceTicks, lineStyle: { color: '#404040' } },
      axisLabel: { customValues: priceTicks.concat([lastPrice]), margin: 2, fontSize: 11, fontFamily: FONT,
        formatter: v => Math.abs(v - lastPrice) < 1e-7 ? '{hl|1,45036}' : '{n|' + fmtPrice(v) + '}',
        rich: {
          n: { color: LABEL_COLOR, fontSize: 11, fontFamily: FONT, padding: [0, 0, 0, 2] },
          hl: { color: '#111', fontSize: 11, fontFamily: FONT, backgroundColor: '#5bc8fa', padding: [2, 2, 1, 2] }
        } },
      splitLine: { show: false } },
    { type: 'value', gridIndex: 3, position: 'right', min: 1.126923, max: 1.543077,
      axisLine: { show: false }, axisTick: { inside: true, length: 5, customValues: priceMinor, lineStyle: { color: '#404040' } },
      axisLabel: { show: false }, splitLine: { show: false } },
    { type: 'value', gridIndex: 4, min: 999307, max: 1004358, axisLine: { show: false }, axisLabel: { show: false },
      axisTick: { show: false, customValues: equityTicks },
      splitLine: { show: true, lineStyle: { color: ['#a0a0a0', GRID_COLOR, GRID_COLOR, GRID_COLOR, GRID_COLOR] } } },
    { type: 'value', gridIndex: 5, position: 'right', min: 999274, max: 1004358,
      axisLine: { show: true, lineStyle: { color: '#404040' } },
      axisTick: { inside: true, length: 15, customValues: equityTicks, lineStyle: { color: '#404040' } },
      axisLabel: { customValues: equityTicks, margin: 2, fontSize: 11, fontFamily: FONT,
        formatter: v => v === 1000000 ? '{hl|' + fmtEquity(v) + '}' : '{n|' + fmtEquity(v) + ',00}',
        rich: {
          n: { color: LABEL_COLOR, fontSize: 11, fontFamily: FONT, padding: [0, 0, 0, 2] },
          hl: { color: '#111', fontSize: 11, fontFamily: FONT, backgroundColor: '#a0a0a0', padding: [2, 2, 1, 2] }
        } },
      splitLine: { show: false } },
    { type: 'value', gridIndex: 5, position: 'right', min: 999274, max: 1004358,
      axisLine: { show: false }, axisTick: { inside: true, length: 5, customValues: equityMinor, lineStyle: { color: '#404040' } },
      axisLabel: { show: false }, splitLine: { show: false } }
  ],
  graphic: graphicTexts,
  series: [
    { type: 'custom', name: 'EUR/USD', xAxisIndex: 0, yAxisIndex: 0, data: bars, renderItem: renderBar,
      encode: { x: 0, y: [2, 3] }, clip: true, z: 2, silent: true },
    ...stopSeries(redStop, RED),
    ...stopSeries(greenStop, GREEN),
    { type: 'scatter', xAxisIndex: 0, yAxisIndex: 0, data: signals, symbol: 'circle', symbolSize: 12, z: 6, silent: true,
      itemStyle: { color: '#000', borderColor: '#f5a623', borderWidth: 1 },
      label: { show: true, position: 'inside', formatter: '$', color: '#fff', fontSize: 9, fontWeight: 'bold' } },
    { type: 'scatter', xAxisIndex: 2, yAxisIndex: 1, data: monthIdx.map(i => [i, 0.58]), symbol: 'triangle', symbolRotate: 180,
      symbolSize: [10, 10], itemStyle: { color: '#f5a020' }, z: 3, silent: true },
    { type: 'line', xAxisIndex: 6, yAxisIndex: 5, data: equity, showSymbol: false, symbol: 'none',
      lineStyle: { color: '#000', width: 1 }, z: 3, silent: true }
  ]
})

window.addEventListener('resize', () => chart.resize())
</script>
</body>
</html>
